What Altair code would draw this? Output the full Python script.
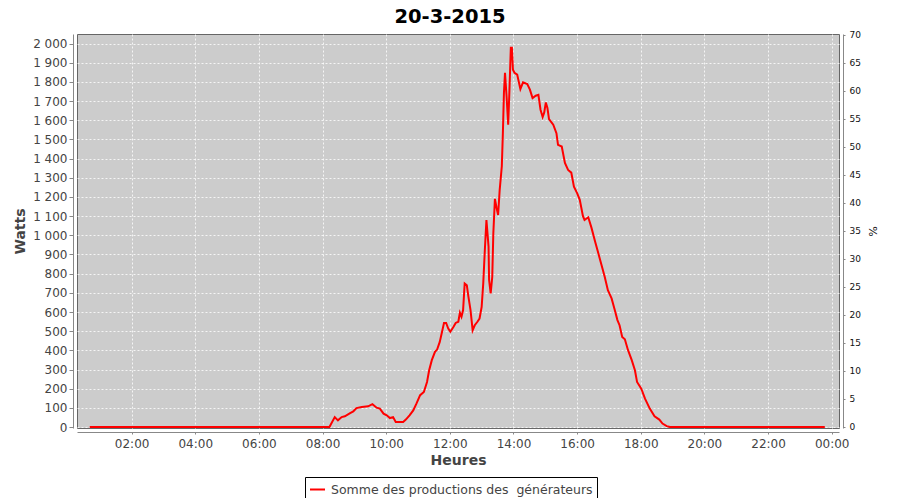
import altair as alt
import pandas as pd

# ---- data ----
times = [
    "00:41", "01:00", "02:00", "03:00", "04:00", "05:00", "06:00", "07:00", "08:00", "08:13",
    "08:23", "08:29", "08:36", "08:42", "08:52", "08:58", "09:04", "09:14", "09:26", "09:34",
    "09:42", "09:48", "09:55", "10:01", "10:07", "10:13", "10:18", "10:32", "10:37", "10:44",
    "10:51", "10:57", "11:04", "11:11", "11:17", "11:21", "11:26", "11:32", "11:36", "11:41",
    "11:49", "11:53", "11:57", "12:01", "12:07", "12:11", "12:16", "12:19", "12:22", "12:25",
    "12:28", "12:32", "12:35", "12:39", "12:43", "12:47", "12:52", "12:56", "13:00", "13:03",
    "13:06", "13:09", "13:13", "13:14", "13:17", "13:20", "13:22", "13:25", "13:28", "13:31",
    "13:34", "13:38", "13:40", "13:42", "13:44", "13:47", "13:50", "13:52", "13:55", "13:57",
    "13:59", "14:02", "14:07", "14:13", "14:18", "14:26", "14:31", "14:36", "14:42", "14:47",
    "14:51", "14:55", "14:58", "15:01", "15:04", "15:07", "15:15", "15:21", "15:24", "15:31",
    "15:37", "15:43", "15:49", "15:54", "16:00", "16:05", "16:11", "16:14", "16:21", "16:27",
    "16:34", "16:40", "16:46", "16:52", "16:58", "17:05", "17:11", "17:16", "17:20", "17:25",
    "17:30", "17:36", "17:43", "17:49", "17:53", "18:01", "18:08", "18:17", "18:26", "18:35",
    "18:41", "18:49", "18:55", "19:00", "20:00", "21:00", "22:00", "23:00", "23:47",
]
watts = [
    0, 0, 0, 0, 0, 0, 0, 0, 0, 0,
    52, 35, 52, 56, 73, 82, 99, 105, 108, 119,
    101, 96, 70, 61, 47, 52, 26, 26, 39, 61,
    87, 122, 166, 183, 235, 296, 349, 392, 404, 444,
    543, 543, 514, 497, 523, 543, 549, 596, 575, 610,
    749, 740, 680, 610, 505, 531, 549, 566, 627, 749,
    923, 1080, 941, 767, 697, 784, 1011, 1190, 1145, 1106,
    1237, 1360, 1533, 1742, 1847, 1725, 1577, 1725, 1978, 1978,
    1864, 1847, 1838, 1763, 1798, 1789, 1760, 1716, 1728, 1733,
    1655, 1617, 1641, 1693, 1664, 1606, 1577, 1533, 1472, 1463,
    1377, 1341, 1327, 1254, 1220, 1185, 1100, 1080, 1094, 1040,
    967, 906, 845, 784, 714, 671, 610, 558, 531, 470,
    458, 401, 349, 296, 235, 200, 148, 96, 56, 39,
    18, 5, 0, 0, 0, 0, 0, 0, 0,
]
series_name = "Somme des productions des\u00a0 générateurs"
chart_title = "20-3-2015"
tick_hours = [2, 4, 6, 8, 10, 12, 14, 16, 18, 20, 22, 24]
watt_ticks = list(range(0, 2001, 100))
pct_ticks = list(range(0, 71, 5))

hours = [int(t[:2]) + int(t[3:]) / 60 for t in times]
df = pd.DataFrame({"h": hours, "w": watts, "s": series_name})

LABEL = "#444444"
AXIS = "#888888"

x_enc = alt.X(
    "h:Q",
    scale=alt.Scale(domain=[0.283, 24.23], nice=False, zero=False),
    axis=alt.Axis(
        values=tick_hours,
        labelExpr="(datum.value % 24 < 10 ? '0' : '') + (datum.value % 24) + ':00'",
        title="Heures",
        offset=4,
        tickSize=2,
        labelPadding=4,
        titlePadding=4,
        grid=True,
    ),
)

line = alt.Chart(df).mark_line(strokeWidth=2, clip=True).encode(
    x=x_enc,
    y=alt.Y(
        "w:Q",
        scale=alt.Scale(domain=[-5, 2050], nice=False, zero=False),
        axis=alt.Axis(
            values=watt_ticks,
            labelExpr="replace(format(datum.value, ','), ',', ' ')",
            title="Watts",
            offset=4,
            tickSize=4,
            labelPadding=2,
            titlePadding=5,
            grid=True,
        ),
    ),
    color=alt.Color(
        "s:N",
        scale=alt.Scale(range=["#ff0000"]),
        legend=alt.Legend(
            title=None,
            orient="none",
            legendX=228,
            legendY=443,
            direction="horizontal",
            strokeColor="black",
            fillColor="white",
            padding=4,
            symbolType="stroke",
            symbolStrokeWidth=2,
            symbolSize=225,
            labelFontSize=12.5,
            labelColor=LABEL,
            labelOffset=5,
            labelLimit=600,
        ),
    ),
)

right = alt.Chart(pd.DataFrame({"p": [0]})).mark_rule(opacity=0).encode(
    y=alt.YDatum(
        0,
        type="quantitative",
        scale=alt.Scale(domain=[-0.18, 70.1], nice=False, zero=False),
        axis=alt.Axis(
            orient="right",
            values=pct_ticks,
            title="%",
            offset=4,
            tickSize=2,
            labelPadding=4,
            labelFontSize=9,
            labelColor="#111111",
            titleFontSize=11,
            titleFontWeight="normal",
            titleColor="#111111",
            titlePadding=6,
            grid=False,
        ),
    )
)

chart = (
    alt.layer(line, right)
    .resolve_scale(y="independent")
    .properties(
        width=762,
        height=394,
        autosize=alt.AutoSizeParams(type="none"),
        padding={"left": 69, "top": 26, "right": 53, "bottom": 70},
        title=alt.TitleParams(
            text=chart_title,
            fontSize=19.5,
            fontWeight="bold",
            color="black",
            anchor="middle",
            frame="group",
            baseline="top",
            offset=3,
            dx=-8,
        ),
    )
    .configure(font="DejaVu Sans", background="white")
    .configure_view(fill="#cccccc", stroke="#666666", strokeWidth=1)
    .configure_axis(
        labelFontSize=12,
        labelColor=LABEL,
        titleFontSize=14,
        titleFontWeight="bold",
        titleColor=LABEL,
        domainColor=AXIS,
        tickColor=AXIS,
        gridColor="#ffffff",
        gridDash=[2, 2],
        gridWidth=0.8,
        gridOpacity=1,
    )
)

chart.save("out.html", embed_options={"renderer": "svg", "actions": False})
